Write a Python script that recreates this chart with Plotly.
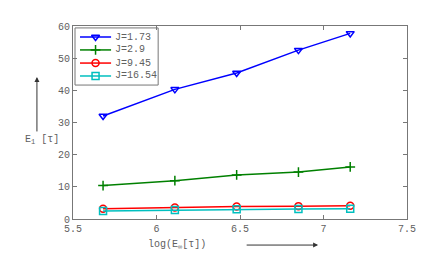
import plotly.graph_objects as go

x_vals = [5.68, 6.11, 6.48, 6.85, 7.16]
series_names = ["J=1.73", "J=2.9", "J=9.45", "J=16.54"]
y_j173 = [32.0, 40.3, 45.4, 52.5, 57.7]
y_j29 = [10.4, 11.9, 13.7, 14.6, 16.2]
y_j945 = [3.2, 3.6, 3.9, 4.0, 4.1]
y_j1654 = [2.5, 2.8, 3.0, 3.1, 3.2]

x_ticks = [5.5, 6, 6.5, 7, 7.5]
x_ticklabels = ["5.5", "6", "6.5", "7", "7.5"]
y_ticks = [0, 10, 20, 30, 40, 50, 60]

colors = ["#0000ff", "#008000", "#ff0000", "#00bfbf"]
symbols = ["triangle-down-open", "cross-thin-open", "circle-open", "square-open"]
all_y = [y_j173, y_j29, y_j945, y_j1654]

FONT = "Liberation Mono"
GRAY = "#606060"

# compact legend layout (fractions of the plot area)
leg_box = (0.006, 0.694, 0.255, 0.990)
leg_rows = [0.943, 0.876, 0.808, 0.741]
leg_line_x = (0.021, 0.114)
leg_text_x = 0.12

fig = go.Figure()
for name, ys, c, s in zip(series_names, all_y, colors, symbols):
    fig.add_trace(go.Scatter(
        x=x_vals, y=ys, name=name, mode="lines+markers", showlegend=False,
        line=dict(color=c, width=1.5),
        marker=dict(symbol=s, size=7, color=c, line=dict(color=c, width=1.5)),
    ))

# legend samples on an invisible overlay axis
for name, c, s, ry in zip(series_names, colors, symbols, leg_rows):
    fig.add_trace(go.Scatter(
        x=[leg_line_x[0], leg_line_x[1]], y=[ry, ry], mode="lines",
        line=dict(color=c, width=1.5), xaxis="x2", yaxis="y2",
        showlegend=False, hoverinfo="skip",
    ))
    fig.add_trace(go.Scatter(
        x=[(leg_line_x[0] + leg_line_x[1]) / 2], y=[ry], mode="markers",
        marker=dict(symbol=s, size=7, color=c, line=dict(color=c, width=1.5)),
        xaxis="x2", yaxis="y2", showlegend=False, hoverinfo="skip",
    ))
    fig.add_annotation(
        xref="x2", yref="y2", x=leg_text_x, y=ry, xanchor="left", yanchor="middle",
        text=name, showarrow=False, font=dict(family=FONT, size=10, color=GRAY),
    )

fig.add_shape(
    type="rect", xref="x2", yref="y2",
    x0=leg_box[0], y0=leg_box[1], x1=leg_box[2], y1=leg_box[3],
    line=dict(color="#777777", width=1), fillcolor="rgba(0,0,0,0)", layer="above",
)

fig.update_layout(
    width=436, height=273,
    margin=dict(l=73, r=29, t=26, b=54),
    paper_bgcolor="white", plot_bgcolor="white",
    font=dict(family=FONT, size=10, color=GRAY),
    showlegend=False,
    xaxis2=dict(overlaying="x", range=[0, 1], visible=False, fixedrange=True),
    yaxis2=dict(overlaying="y", range=[0, 1], visible=False, fixedrange=True),
)
fig.update_layout(xaxis=dict(
    range=[5.5, 7.5], tickvals=x_ticks, ticktext=x_ticklabels,
    showgrid=False, zeroline=False, showline=True, linecolor="#777777",
    linewidth=1, mirror="ticks", ticks="inside", ticklen=4, tickcolor="#777777",
))
fig.update_layout(yaxis=dict(
    range=[0, 60], tickvals=y_ticks,
    showgrid=False, zeroline=False, showline=True, linecolor="#777777",
    linewidth=1, mirror="ticks", ticks="inside", ticklen=4, tickcolor="#777777",
))

fig.add_annotation(
    xref="paper", yref="paper", x=-0.108, y=0.736, ax=0, ay=56,
    showarrow=True, arrowhead=2, arrowsize=1, arrowwidth=1, arrowcolor="#333333", text="",
)
fig.add_annotation(
    xref="paper", yref="paper", x=0.734, y=-0.135, ax=-73, ay=0,
    showarrow=True, arrowhead=2, arrowsize=1, arrowwidth=1, arrowcolor="#333333", text="",
)
fig.add_annotation(
    xref="paper", yref="paper", x=-0.093, y=0.41, xanchor="center", yanchor="middle",
    showarrow=False, text="E<sub>1</sub> [τ]", font=dict(family=FONT, size=10, color=GRAY),
)
fig.add_annotation(
    xref="paper", yref="paper", x=0.311, y=-0.135, xanchor="center", yanchor="middle",
    showarrow=False, text="log(E<sub>∞</sub>[τ])", font=dict(family=FONT, size=10, color=GRAY),
)

fig.write_html("out.html", post_script="document.body.style.margin='0';",
               config={"displayModeBar": False})
